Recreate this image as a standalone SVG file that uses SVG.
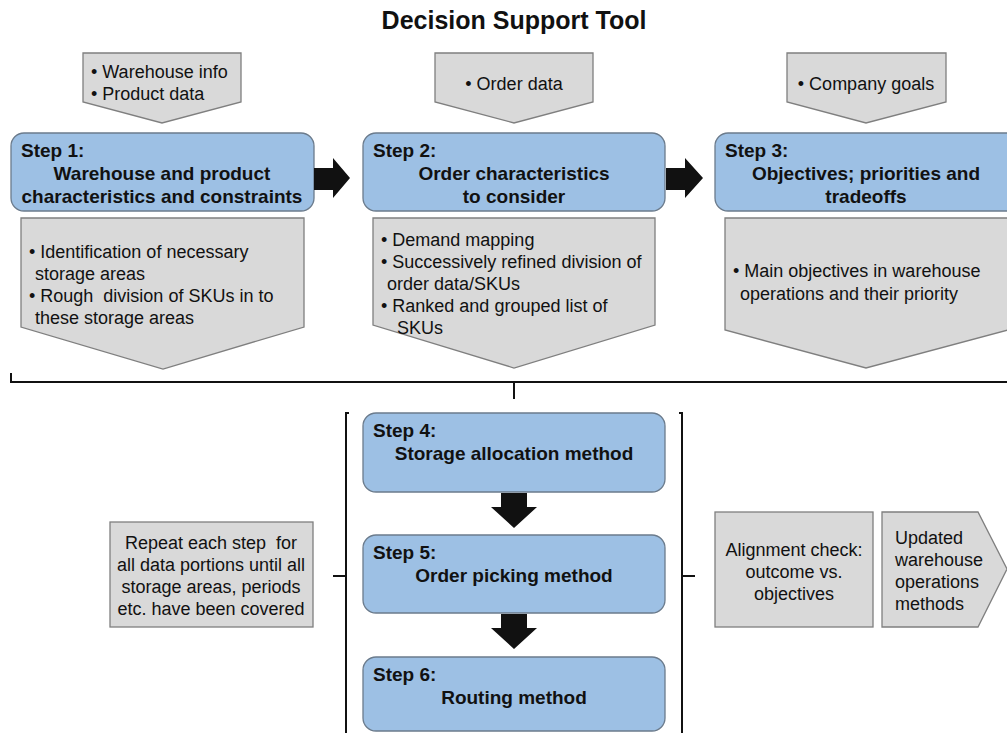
<svg xmlns="http://www.w3.org/2000/svg" width="1007" height="733" viewBox="0 0 1007 733">
<style>
.t{font-family:"Liberation Sans",Arial,sans-serif;font-size:18px;fill:#111}
.b{font-family:"Liberation Sans",Arial,sans-serif;font-size:19px;font-weight:bold;fill:#111}
.c{text-anchor:middle}
.step{fill:#9dc0e4;stroke:#6b7b8c;stroke-width:1.3}
.grey{fill:#d9d9d9;stroke:#7f7f7f;stroke-width:1.3}
.blk{fill:#111}
.ln{fill:none;stroke:#111;stroke-width:2}
</style>
<rect width="1007" height="733" fill="#fff"/>
<text x="514" y="29" class="b c" style="font-size:25px">Decision Support Tool</text>

<g id="in1"><path class="grey" d="M83,53H241V102L162,123L83,102Z"/>
<text class="t" x="91" y="78">• Warehouse info</text><text class="t" x="91" y="100">• Product data</text></g>
<g id="in2"><path class="grey" d="M435,53H593V102L514,123L435,102Z"/>
<text class="t c" x="514" y="90">• Order data</text></g>
<g id="in3"><path class="grey" d="M787,53H946V102L866,123L787,102Z"/>
<text class="t c" x="866" y="90">• Company goals</text></g>

<g id="step1"><rect class="step" x="11" y="133" width="303" height="78" rx="13"/>
<text class="b" x="21" y="157">Step 1:</text>
<text class="b c" x="162" y="180">Warehouse and product</text>
<text class="b c" x="162" y="203">characteristics and constraints</text></g>
<g id="step2"><rect class="step" x="363" y="133" width="302" height="78" rx="13"/>
<text class="b" x="373" y="157">Step 2:</text>
<text class="b c" x="514" y="180">Order characteristics</text>
<text class="b c" x="514" y="203">to consider</text></g>
<g id="step3"><rect class="step" x="715" y="133" width="310" height="78" rx="13"/>
<text class="b" x="725" y="157">Step 3:</text>
<text class="b c" x="866" y="180">Objectives; priorities and</text>
<text class="b c" x="866" y="203">tradeoffs</text></g>

<g id="out1"><path class="grey" d="M21,218H304V327L163,369L21,327Z"/>
<text class="t" x="29" y="258">• Identification of necessary</text>
<text class="t" x="35" y="280">storage areas</text>
<text class="t" x="29" y="302">• Rough &#160;division of SKUs in to</text>
<text class="t" x="35" y="324">these storage areas</text></g>
<g id="out2"><path class="grey" d="M373,218H655V325L514,368L373,325Z"/>
<text class="t" x="381" y="246">• Demand mapping</text>
<text class="t" x="381" y="268">• Successively refined division of</text>
<text class="t" x="387" y="290">order data/SKUs</text>
<text class="t" x="381" y="312">• Ranked and grouped list of</text>
<text class="t" x="397" y="334">SKUs</text></g>
<g id="out3"><path class="grey" d="M725,218H1008V330L866,368L725,330Z"/>
<text class="t" x="733" y="277">• Main objectives in warehouse</text>
<text class="t" x="740" y="300">operations and their priority</text></g>

<g id="step4"><rect class="step" x="363" y="413" width="302" height="79" rx="13"/>
<text class="b" x="373" y="437">Step 4:</text>
<text class="b c" x="514" y="460">Storage allocation method</text></g>
<g id="step5"><rect class="step" x="363" y="535" width="302" height="78" rx="13"/>
<text class="b" x="373" y="559">Step 5:</text>
<text class="b c" x="514" y="582">Order picking method</text></g>
<g id="step6"><rect class="step" x="363" y="657" width="302" height="74" rx="13"/>
<text class="b" x="373" y="681">Step 6:</text>
<text class="b c" x="514" y="704">Routing method</text></g>

<g id="repeat"><rect class="grey" x="110" y="522" width="203" height="105"/>
<text class="t c" x="211" y="549">Repeat each step &#160;for</text>
<text class="t c" x="211" y="571">all data portions until all</text>
<text class="t c" x="211" y="593">storage areas, periods</text>
<text class="t c" x="211" y="615">etc. have been covered</text></g>
<g id="align"><rect class="grey" x="715" y="512" width="158" height="115"/>
<text class="t c" x="794" y="556">Alignment check:</text>
<text class="t c" x="794" y="578">outcome vs.</text>
<text class="t c" x="794" y="600">objectives</text></g>
<g id="updated"><path class="grey" d="M882,512H978L1007,569L978,627H882Z"/>
<text class="t" x="895" y="544">Updated</text>
<text class="t" x="895" y="566">warehouse</text>
<text class="t" x="895" y="588">operations</text>
<text class="t" x="895" y="610">methods</text></g>

<g id="connectors">
<path class="blk" d="M314,168H333V158L350,178L333,198V190H314Z"/>
<path class="blk" d="M666,168H685V158L703,178L685,198V190H666Z"/>
<path class="blk" d="M501,493H527V507H537L514,528L491,507H501Z"/>
<path class="blk" d="M501,614H527V628H537L514,649L491,628H501Z"/>
<path class="ln" d="M11,373V382H1007M514,382V399"/>
<path class="ln" d="M349,413H346V733M346,576H333"/>
<path class="ln" d="M679,413H682V733M682,576H695"/>
</g>
</svg>
